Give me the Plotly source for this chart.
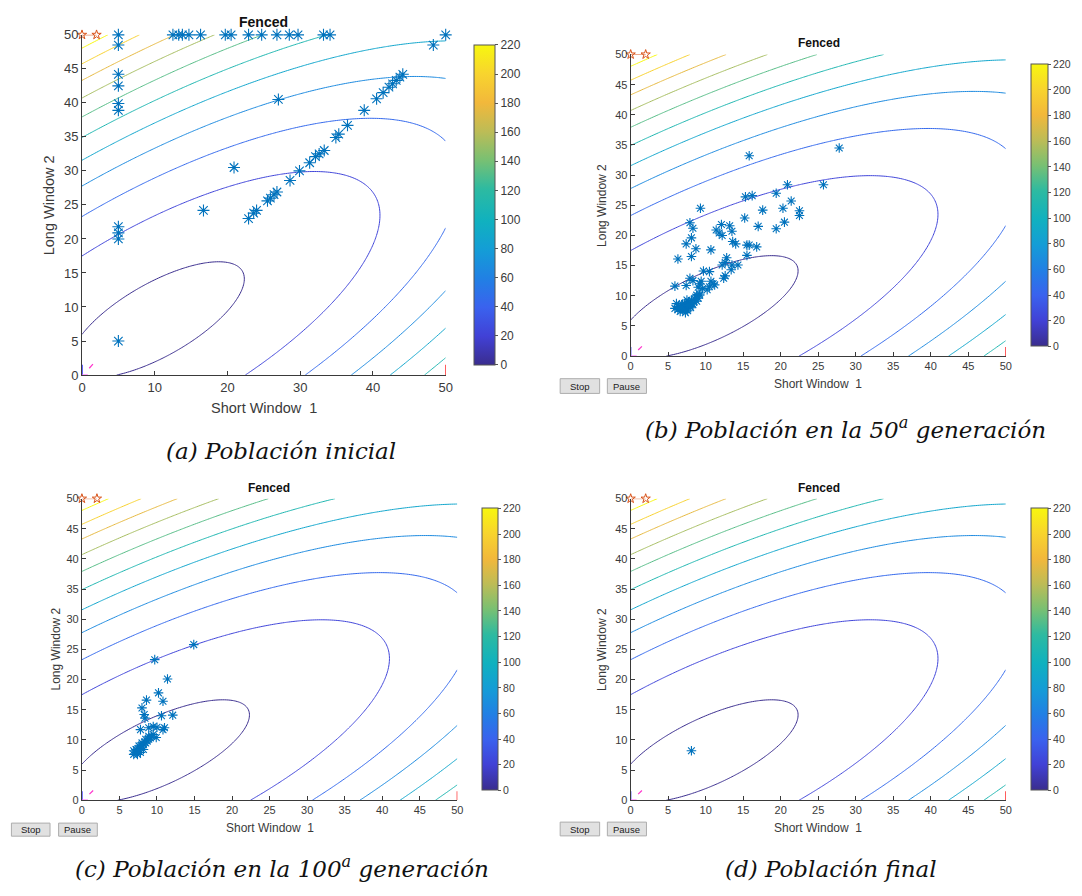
import numpy as np
import plotly.graph_objects as go

W, H = 1082, 896

# ---------------- data ----------------
# Objective surface z = A x^2 + B y^2 + C x y + D x + E y + F (coefficients read from contour shapes)
Q_A, Q_B, Q_C, Q_D, Q_E, Q_F = 0.05, 0.0988, -0.099, -0.23, -0.583, 3.56
LEVEL_START, LEVEL_END, LEVEL_STEP = 3.6, 203.6, 20
CB_MIN, CB_MAX = 0, 220
CB_TICKS = [0, 20, 40, 60, 80, 100, 120, 140, 160, 180, 200, 220]
X_TICKS_A = [0, 10, 20, 30, 40, 50]
X_TICKS_BCD = [0, 5, 10, 15, 20, 25, 30, 35, 40, 45, 50]
Y_TICKS = [0, 5, 10, 15, 20, 25, 30, 35, 40, 45, 50]

# population (a) initial
pop_a_x = [5, 12.5, 13.3, 13.8, 14.7, 16.3, 19.7, 20.5, 22.9, 24.7, 26.8, 28.5, 29.7, 33.2, 34.1, 50,
           5, 5, 5, 5, 5, 5, 5, 5, 5,
           48.3, 27.0, 20.9, 16.7,
           44.1, 43.7, 43.2, 42.7, 42.2, 41.4, 40.5, 38.8, 36.5, 35.3, 34.9, 33.3, 32.6, 32.1,
           31.3, 29.9, 28.6, 26.8, 26.4, 25.9, 25.5, 24.0, 23.6, 22.9]
pop_a_y = [50, 50, 50, 50, 50, 50, 50, 50, 50, 50, 50, 50, 50, 50, 50, 50,
           48.5, 44.2, 42.5, 39.9, 38.9, 21.8, 20.9, 20.0, 5.0,
           48.5, 40.5, 30.5, 24.2,
           44.2, 43.8, 43.3, 42.8, 42.3, 41.5, 40.6, 38.9, 36.7, 35.4, 34.9, 33.0, 32.5, 32.1,
           31.2, 30.0, 28.6, 26.9, 26.5, 26.0, 25.6, 24.2, 23.8, 23.0]

# population (b) generation 50
pop_b_x = [27.8, 15.8, 25.7, 20.9, 15.3, 16.2, 19.4, 21.4, 9.3, 17.6, 20.3, 22.5, 22.5, 15.2, 20.5,
           7.9, 8.3, 12.1, 13.2, 13.5, 17.0, 19.4, 11.4, 11.8, 12.2, 8.1, 7.4, 13.6, 14.0, 15.5,
           15.8, 8.7, 10.7, 16.8, 15.5, 6.3, 8.1, 12.8, 12.6, 12.2, 13.5, 14.3, 9.7, 10.5, 13.4,
           12.6, 12.4, 7.9, 8.3, 9.4, 10.7, 11.2, 10.5, 9.6, 10.2, 11.0, 9.2, 5.9, 7.4, 9.0,
           9.2, 8.8, 5.9, 6.4, 6.8, 7.2, 7.7, 8.1, 8.5, 7.0, 7.4, 7.9, 8.3, 6.6, 6.1, 8.7,
           9.2, 7.6, 7.1, 6.9, 8.0, 7.5, 6.3, 8.8, 7.8, 7.3, 8.2, 9.0, 6.7, 7.6]
pop_b_y = [34.5, 33.2, 28.4, 28.4, 26.4, 26.6, 27.0, 25.7, 24.5, 24.2, 24.5, 24.1, 23.3, 22.9, 22.2,
           22.1, 21.2, 21.8, 21.6, 20.7, 21.5, 21.1, 20.9, 20.4, 20.0, 19.6, 18.6, 19.0, 18.6, 18.4,
           18.4, 17.8, 17.6, 18.1, 16.7, 16.1, 16.5, 16.3, 15.5, 15.1, 15.1, 15.1, 14.1, 14.0, 14.3,
           13.3, 12.9, 12.9, 12.5, 12.4, 12.4, 11.8, 11.5, 11.2, 11.0, 12.0, 12.0, 11.6, 11.7, 11.4,
           10.3, 10.1, 7.9, 8.2, 8.4, 8.7, 9.0, 9.2, 9.5, 7.6, 7.9, 8.2, 8.5, 7.4, 8.7, 9.8,
           10.1, 7.5, 8.0, 8.6, 8.0, 9.3, 7.7, 9.1, 8.9, 7.2, 8.7, 9.6, 8.1, 8.4]

# population (c) generation 100
pop_c_x = [14.9, 9.7, 11.4, 10.2, 8.6, 10.8, 8.0, 8.3, 8.4, 10.6, 12.1, 7.8, 8.9, 9.5, 10.0,
           10.8, 11.0, 9.9, 6.9, 7.2, 7.4, 7.6, 7.8, 8.0, 8.2, 8.5, 8.7, 8.9, 9.1, 9.3, 9.5,
           7.4, 7.8, 8.2, 7.6, 8.0, 8.5, 8.9, 7.2, 6.9]
pop_c_y = [25.8, 23.3, 20.1, 17.8, 16.6, 16.4, 15.3, 14.2, 13.6, 14.0, 14.1, 11.7, 12.0, 12.2, 12.1,
           11.7, 12.0, 10.4, 7.6, 7.9, 8.2, 8.4, 8.7, 9.0, 9.2, 9.5, 9.8, 10.1, 10.3, 10.6, 10.9,
           7.6, 7.9, 8.4, 9.0, 9.5, 10.1, 10.6, 8.4, 8.2]

# population (d) final
pop_d_x = [8.1]
pop_d_y = [8.2]

# bound / best markers drawn by the GA plot
best_x = [0, 2]
best_y = [50, 50]
lb_mark_x, lb_mark_y = [0, 0], [0, 1.5]
ub_mark_x, ub_mark_y = [50, 50], [0, 1.5]
mid_mark_x, mid_mark_y = [1.0, 1.5], [1.0, 1.6]
low_mark_x, low_mark_y = [0, 0.8], [0, 0]

captions = ["(a) Población inicial",
            "(b) Población en la 50<sup>a</sup> generación",
            "(c) Población en la 100<sup>a</sup> generación",
            "(d) Población final"]

# ---------------- styling ----------------
PARULA = [[0.0, '#3A2D8E'], [0.09, '#4141D6'], [0.18, '#3A62EE'], [0.27, '#2180E4'],
          [0.36, '#149DD6'], [0.45, '#10B1BF'], [0.55, '#2DBAA1'], [0.64, '#78C073'],
          [0.73, '#BDBC56'], [0.82, '#F2B83B'], [0.91, '#F8D42E'], [1.0, '#F7F70F']]
SANS = "Liberation Sans, Arial, sans-serif"
SERIF = "DejaVu Serif, serif"
AX_COL = '#3a3a3a'

panels = [
    dict(px=pop_a_x, py=pop_a_y, x0=80, x1=453, yt=28.3, yb=374.3, cb0=472, cb1=493,
         tx=266, ty=15, ylx=46.5, xly=408, tf=13, lf=14.5, hf=14, cf=12, xt=X_TICKS_A,
         ms=10, btn=None, cap=(284, 452)),
    dict(px=pop_b_x, py=pop_b_y, x0=642.7, x1=1027.4, yt=48.3, yb=355, cb0=1043, cb1=1059.5,
         tx=835.5, ty=37, ylx=614, xly=383, tf=11, lf=12, hf=12, cf=10.5, xt=X_TICKS_BCD,
         ms=8, btn=(570.4, 610.9, 618.8, 658.9, 378, 393), cap=(863, 428)),
    dict(px=pop_c_x, py=pop_c_y, x0=79.9, x1=464.9, yt=500, yb=806.7, cb0=480.4, cb1=495.9,
         tx=272, ty=489, ylx=53.4, xly=835, tf=11, lf=12, hf=12, cf=10.5, xt=X_TICKS_BCD,
         ms=8, btn=(7.6, 47.2, 56, 95.7, 830, 843.3), cap=(285, 875)),
    dict(px=pop_d_x, py=pop_d_y, x0=642.7, x1=1027.4, yt=500, yb=806.7, cb0=1043, cb1=1059.5,
         tx=835.5, ty=489, ylx=614, xly=835, tf=11, lf=12, hf=12, cf=10.5, xt=X_TICKS_BCD,
         ms=8, btn=(570.4, 610.9, 618.8, 658.9, 829, 843), cap=(848, 877)),
]


def fx(p):
    return p / W


def fy(p):
    return 1 - p / H


gx = np.linspace(0, 50, 201)
gy = np.linspace(0, 50, 201)
GX, GY = np.meshgrid(gx, gy)
Z = Q_A * GX**2 + Q_B * GY**2 + Q_C * GX * GY + Q_D * GX + Q_E * GY + Q_F

fig = go.Figure()
annotations = []
shapes = []
layout_axes = {}

for i, p in enumerate(panels):
    n = '' if i == 0 else str(i + 1)
    xa, ya = 'x' + n, 'y' + n
    fig.add_trace(go.Contour(
        x=gx, y=gy, z=Z, xaxis=xa, yaxis=ya,
        colorscale=PARULA, zmin=CB_MIN, zmax=CB_MAX, zauto=False,
        contours=dict(start=LEVEL_START, end=LEVEL_END, size=LEVEL_STEP,
                      coloring='lines', showlabels=False),
        line=dict(width=1), showscale=False, hoverinfo='skip'))
    # colorbar carrier
    fig.add_trace(go.Scatter(
        x=[25], y=[25], xaxis=xa, yaxis=ya, mode='markers', hoverinfo='skip', showlegend=False,
        marker=dict(size=1, opacity=0, color=[CB_MIN], cmin=CB_MIN, cmax=CB_MAX,
                    colorscale=PARULA, showscale=True,
                    colorbar=dict(x=fx(p['cb0']), xanchor='left', xref='paper',
                                  y=fy((p['yt'] + p['yb']) / 2), yanchor='middle', yref='paper',
                                  len=(p['yb'] - p['yt']) / H, lenmode='fraction',
                                  thickness=p['cb1'] - p['cb0'], thicknessmode='pixels',
                                  outlinewidth=1, outlinecolor='#555555',
                                  tickvals=CB_TICKS, ticks='outside', ticklen=3,
                                  tickcolor='#555555',
                                  tickfont=dict(family=SANS, size=p['cf'], color=AX_COL)))))
    # bound markers
    for mx, my, col in [(lb_mark_x, lb_mark_y, '#0000FF'), (ub_mark_x, ub_mark_y, '#FF0000'),
                        (mid_mark_x, mid_mark_y, '#FF33CC'), (low_mark_x, low_mark_y, '#FF66FF')]:
        fig.add_trace(go.Scatter(x=mx, y=my, xaxis=xa, yaxis=ya, mode='lines',
                                 line=dict(color=col, width=1.2), showlegend=False,
                                 hoverinfo='skip', cliponaxis=False))
    # best point stars
    fig.add_trace(go.Scatter(x=best_x, y=best_y, xaxis=xa, yaxis=ya, mode='lines+markers',
                             line=dict(color='#D95319', width=1),
                             marker=dict(symbol='star-open', size=7, color='#D95319',
                                         line=dict(width=1, color='#D95319')),
                             showlegend=False, hoverinfo='skip', cliponaxis=False))
    # population
    fig.add_trace(go.Scatter(x=p['px'], y=p['py'], xaxis=xa, yaxis=ya, mode='markers',
                             marker=dict(symbol='asterisk-open', size=p['ms'],
                                         line=dict(width=1.1, color='#0072BD'), color='#0072BD'),
                             showlegend=False, cliponaxis=False))

    axcommon = dict(range=[0, 50], showline=True, linecolor=AX_COL, linewidth=1, ticks='inside',
                    ticklen=4, tickcolor=AX_COL, showgrid=False, zeroline=False, mirror=False,
                    tickfont=dict(family=SANS, size=p['tf'], color=AX_COL), fixedrange=True)
    layout_axes['xaxis' + n] = dict(axcommon, domain=[fx(p['x0']), fx(p['x1'])], anchor=ya,
                                     tickvals=p['xt'])
    layout_axes['yaxis' + n] = dict(axcommon, domain=[fy(p['yb']), fy(p['yt'])], anchor=xa,
                                     tickvals=Y_TICKS)

    annotations.append(dict(text='<b>Fenced</b>', x=fx(p['tx']), y=fy(p['ty']), xref='paper',
                            yref='paper', showarrow=False, xanchor='center', yanchor='middle',
                            font=dict(family=SANS, size=p['hf'], color='#111111')))
    annotations.append(dict(text='Short Window  1', x=fx((p['x0'] + p['x1']) / 2), y=fy(p['xly']),
                            xref='paper', yref='paper', showarrow=False, xanchor='center',
                            yanchor='middle', font=dict(family=SANS, size=p['lf'], color=AX_COL)))
    annotations.append(dict(text='Long Window 2', x=fx(p['ylx']), y=fy((p['yt'] + p['yb']) / 2),
                            xref='paper', yref='paper', showarrow=False, textangle=-90,
                            xanchor='center', yanchor='middle',
                            font=dict(family=SANS, size=p['lf'], color=AX_COL)))
    annotations.append(dict(text='<i>' + captions[i] + '</i>', x=fx(p['cap'][0]), y=fy(p['cap'][1]),
                            xref='paper', yref='paper', showarrow=False, xanchor='center',
                            yanchor='middle', font=dict(family=SERIF, size=23, color='#111111')))
    if p['btn']:
        s0, s1, q0, q1, b0, b1 = p['btn']
        for (l, r, label) in [(s0, s1, 'Stop'), (q0, q1, 'Pause')]:
            shapes.append(dict(type='rect', xref='paper', yref='paper', x0=fx(l), x1=fx(r),
                               y0=fy(b1), y1=fy(b0), fillcolor='#E1E1E1',
                               line=dict(color='#ADADAD', width=1)))
            annotations.append(dict(text=label, x=fx((l + r) / 2), y=fy((b0 + b1) / 2),
                                    xref='paper', yref='paper', showarrow=False,
                                    xanchor='center', yanchor='middle',
                                    font=dict(family=SANS, size=9.5, color='#222222')))

fig.update_layout(width=W, height=H, margin=dict(l=0, r=0, t=0, b=0),
                  paper_bgcolor='white', plot_bgcolor='white', showlegend=False,
                  annotations=annotations, shapes=shapes, **layout_axes)

fig.write_html("out.html")
